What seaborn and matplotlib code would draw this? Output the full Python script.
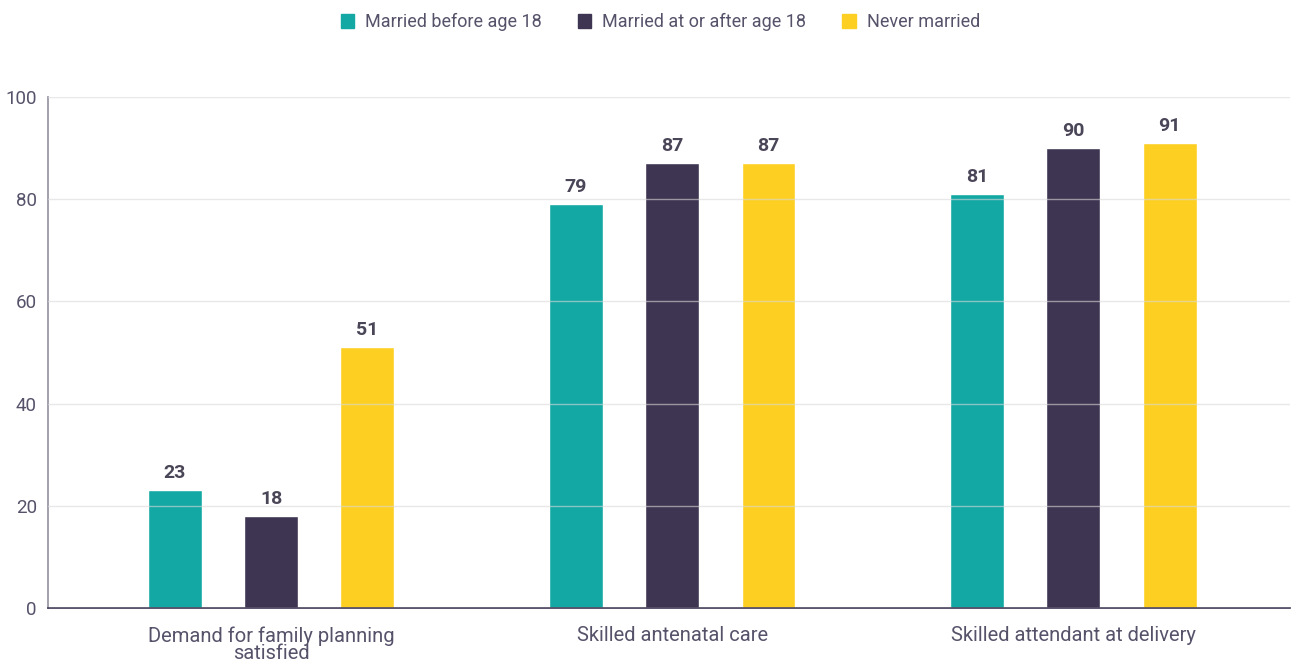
import pandas as pd
import matplotlib
matplotlib.use("Agg")
import matplotlib.pyplot as plt
import seaborn as sns

categories = ["Demand for family planning\nsatisfied", "Skilled antenatal care", "Skilled attendant at delivery"]
groups = ["Married before age 18", "Married at or after age 18", "Never married"]
before18 = [23, 79, 81]
after18 = [18, 87, 90]
never = [51, 87, 91]
colors = ["#13A8A4", "#3D3551", "#FDCF22"]

df = pd.DataFrame({
    "category": categories * 3,
    "group": [groups[0]] * 3 + [groups[1]] * 3 + [groups[2]] * 3,
    "value": before18 + after18 + never,
})

sns.set_style("white")
plt.rcParams["font.family"] = ["Roboto", "DejaVu Sans"]

fig = plt.figure(figsize=(12.91, 6.65), dpi=100)
ax = fig.add_axes([48 / 1291, 1 - 608 / 665, (1290 - 48) / 1291, (608 - 97) / 665])

sns.barplot(data=df, x="category", y="value", hue="group", hue_order=groups,
            palette=colors, width=0.72, gap=0.44, saturation=1, ax=ax, legend=False)

for cont in ax.containers:
    ax.bar_label(cont, fmt="%d", padding=6, fontsize=14, fontweight="bold", color="#4A4658")

ax.set_ylim(0, 100)
ax.set_xlim(-0.556, 2.54)
ax.set_yticks([0, 20, 40, 60, 80, 100])
ax.set_xlabel("")
ax.set_ylabel("")
ax.grid(axis="y", color="#d9d9d9", linewidth=1, alpha=0.6)
ax.set_axisbelow(False)
ax.tick_params(axis="both", length=0, labelsize=13.5, labelcolor="#55526A")
ax.tick_params(axis="y", pad=8)
ax.tick_params(axis="x", pad=13, labelsize=14.5)
for lab in ax.get_xticklabels():
    lab.set_linespacing(0.9)
    lab.set_verticalalignment("top")

for s in ["top", "right"]:
    ax.spines[s].set_visible(False)
ax.spines["left"].set_color("#9a98a6")
ax.spines["left"].set_linewidth(1.3)
ax.spines["bottom"].set_color("#3D3551")
ax.spines["bottom"].set_linewidth(1.2)

handles = [plt.Rectangle((0, 0), 1, 1, color=c) for c in colors]
fig.legend(handles, groups, loc="center", bbox_to_anchor=(0.5115, 1 - 22 / 665), ncol=3,
           frameon=False, fontsize=13, labelcolor="#55526A", handlelength=0.75, handleheight=0.8,
           handletextpad=0.6, columnspacing=2.0)

fig.savefig("out.png", dpi=100)
